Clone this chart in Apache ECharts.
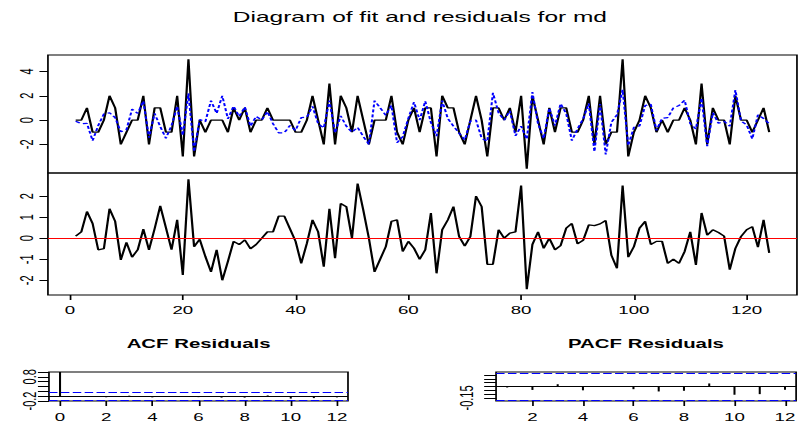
<!DOCTYPE html>
<html><head><meta charset="utf-8">
<script src="https://cdn.jsdelivr.net/npm/echarts@6/dist/echarts.min.js"></script>
<style>
html,body{margin:0;padding:0;background:#fff;overflow:hidden;}
#wrap{width:802px;height:428px;overflow:hidden;position:relative;background:#fff;}
#chart{width:471.76px;height:428px;transform:scaleX(1.7);transform-origin:0 0;}
</style></head><body>
<div id="wrap"><div id="chart"></div></div>
<script>
const mainTitle = 'Diagram of fit and residuals for md';
const acfTitle = 'ACF Residuals';
const pacfTitle = 'PACF Residuals';

const actual = [0,0,1,-1,-1,0,2,1,-2,-1,
 0,0,2,-2,1,1,-1,-1,2,-3,
 5,-3,0,-1,0,0,0,-1,1,0,
 1,-1,0,0,1,0,0,0,0,-1,
 -1,0,2,0,-2,3,-2,2,1,-1,
 2,0,-2,0,0,0,2,-1,-2,0,
 1,-1,1,1,-3,2,1,1,-1,-2,
 0,2,0,-3,1,1,0,1,-1,2,
 -4,2,0,-2,1,-1,1,1,-1,-1,
 0,2,-2,2,-2,-1,-1,5,-3,-1,
 0,2,1,-1,0,-1,0,0,1,0,
 -2,3,-2,1,0,0,-2,2,0,0,
 -1,0,1,-1];

const fitted = [-0.1,-0.3,-0.27,-1.7,-0.45,0.5,0.6,0.2,-0.97,-0.8,
 0.9,0.55,1.57,-1.45,0.55,-0.54,-1.5,-0.45,1.13,-1.25,
 2.2,-2.6,0.05,-0.13,1.6,0.55,2.0,0.1,1.15,0.3,
 1.08,-0.5,0.3,0,0.7,-0.3,-1.05,-1.05,-0.45,-0.85,
 0.2,0.25,1.13,-0.3,-0.65,1.6,-1.05,0.35,-0.5,-1.0,
 -0.6,-1.35,-2.0,1.6,1.0,0.4,1.2,-1.87,-1.37,0.15,
 1.48,0,1.55,-0.2,-1.33,1.6,0.13,-0.5,-1.08,-1.63,
 -0.08,0,-1.5,-1.76,2.24,0.6,0,0.76,-1.3,-0.5,
 -1.57,2.3,-0.3,-1.52,1.0,-0.45,1.35,0.52,-1.7,-0.73,
 0.1,1.37,-2.6,1.32,-2.84,-0.2,0.43,2.5,-2.1,-0.6,
 -0.48,1.2,1.3,-0.85,0.15,0.2,1.0,1.2,1.63,-0.3,
 -0.73,1.8,-2.15,0.6,-0.27,-0.1,-0.5,2.48,-0.08,-0.4,
 -1.55,0.43,0.13,-0.3];

const residuals = [0.1,0.3,1.27,0.7,-0.55,-0.5,1.4,0.8,-1.03,-0.2,
 -0.9,-0.55,0.43,-0.55,0.45,1.54,0.5,-0.55,0.87,-1.75,
 2.8,-0.4,-0.05,-0.87,-1.6,-0.55,-2.0,-1.1,-0.15,-0.3,
 -0.08,-0.5,-0.3,0,0.3,0.3,1.05,1.05,0.45,-0.15,
 -1.2,-0.25,0.87,0.3,-1.35,1.4,-0.95,1.65,1.5,0.0,
 2.6,1.35,0.0,-1.6,-1.0,-0.4,0.8,0.87,-0.63,-0.15,
 -0.48,-1.0,-0.55,1.2,-1.67,0.4,0.87,1.5,0.08,-0.37,
 0.08,2.0,1.5,-1.24,-1.24,0.4,0,0.24,0.3,2.5,
 -2.43,-0.3,0.3,-0.48,0,-0.55,-0.35,0.48,0.7,-0.27,
 -0.1,0.63,0.6,0.68,0.84,-0.8,-1.43,2.5,-0.9,-0.4,
 0.48,0.8,-0.3,-0.15,-0.15,-1.2,-1.0,-1.2,-0.63,0.3,
 -1.27,1.2,0.15,0.4,0.27,0.1,-1.5,-0.48,0.08,0.4,
 0.55,-0.43,0.87,-0.7];

const acfLags = [0,1,2,3,4,5,6,7,8,9,10,11,12];
const acfValues = [1,-0.013,-0.045,0.02,-0.05,-0.01,-0.04,-0.06,-0.06,0.03,-0.1,-0.08,-0.05];
const pacfLags = [1,2,3,4,5,6,7,8,9,10,11,12];
const pacfValues = [-0.013,-0.045,0.03,-0.05,-0.005,-0.035,-0.065,-0.056,0.04,-0.108,-0.1,-0.043];
const confLimit = 0.176;

const timeTicks = [0,20,40,60,80,100,120];
const fitTicks = [-2,0,2,4];
const residTicks = [-2,-1,0,1,2];
const acfXTicks = [0,2,4,6,8,10,12];
const pacfXTicks = [2,4,6,8,10,12];
const acfYTicks = [-0.2,0,0.2,0.4,0.6,0.8,1.0];
const acfYLabels = [-0.2,0.8];
const pacfYTicks = [-0.15,-0.1,-0.05,0,0.05,0.1,0.15];
const pacfYLabels = [-0.15];

const FONT = "'Liberation Sans', Arial, Helvetica, sans-serif";
const lbl = {fontFamily: FONT, fontSize: 11, color: '#000'};
const tickStyle = {color: '#000', width: 1};

function yAx(g, min, max, ticks, labels, tlen, margin) {
  return {type: 'value', gridIndex: g, min: min, max: max, position: 'left',
    splitLine: {show: false}, axisLine: {show: false, onZero: false},
    axisTick: {show: true, length: tlen, customValues: ticks, lineStyle: tickStyle},
    axisLabel: Object.assign({show: true, customValues: labels, rotate: 90, margin: margin}, lbl)};
}
function xAx(g, min, max, ticks, tlen, margin) {
  if (!ticks) return {type: 'value', gridIndex: g, min: min, max: max, show: false,
    axisLine: {show: false, onZero: false}};
  return {type: 'value', gridIndex: g, min: min, max: max, position: 'bottom',
    splitLine: {show: false}, axisLine: {show: false, onZero: false},
    axisTick: {show: true, length: tlen, customValues: ticks, lineStyle: tickStyle},
    axisLabel: Object.assign({show: true, customValues: ticks, margin: margin}, lbl)};
}
function grid(left, top, width, height) {
  return {left: left, top: top, width: width, height: height, show: true,
    borderColor: '#000', borderWidth: 1, backgroundColor: 'transparent',
    containLabel: false, outerBoundsMode: 'none'};
}
function hline(v, color, type) {
  return {yAxis: v, lineStyle: {color: color, width: 1, type: type}};
}

const idx = actual.map((_, i) => i + 1);
const chart = echarts.init(document.getElementById('chart'), null, {renderer: 'svg'});

chart.setOption({
  animation: false,
  backgroundColor: '#fff',
  grid: [
    grid(28.2, 55, 440.6, 118),
    grid(28.2, 173, 440.6, 122),
    grid(28.8, 372, 175.9, 29),
    grid(291.8, 372, 176.5, 29)
  ],
  xAxis: [
    xAx(0, -3.92, 128.92, null),
    xAx(1, -3.92, 128.92, timeTicks, 5, 10),
    xAx(2, -0.48, 12.48, acfXTicks, 5, 11),
    xAx(3, 0.56, 12.44, pacfXTicks, 5, 11)
  ],
  yAxis: [
    yAx(0, -4.36, 5.36, fitTicks, fitTicks, 5, 7),
    yAx(1, -2.7, 3.1, residTicks, residTicks, 5, 7),
    yAx(2, -0.2, 1.0, acfYTicks, acfYLabels, 6.5, 6),
    yAx(3, -0.19, 0.19, pacfYTicks, pacfYLabels, 7, 12)
  ],
  graphic: [
    {type: 'text', x: 247, y: 17, silent: true,
      style: {text: mainTitle, font: '14.4px ' + FONT, fill: '#000', align: 'center', verticalAlign: 'middle'}},
    {type: 'text', x: 116.8, y: 344.5, silent: true,
      style: {text: acfTitle, font: 'bold 12px ' + FONT, fill: '#000', align: 'center', verticalAlign: 'middle'}},
    {type: 'text', x: 380, y: 344.5, silent: true,
      style: {text: pacfTitle, font: 'bold 12px ' + FONT, fill: '#000', align: 'center', verticalAlign: 'middle'}}
  ],
  series: [
    {type: 'line', xAxisIndex: 0, yAxisIndex: 0, silent: true, symbol: 'none',
      data: idx.map((x, i) => [x, actual[i]]),
      lineStyle: {color: '#000', width: 1.3}},
    {type: 'line', xAxisIndex: 0, yAxisIndex: 0, silent: true, symbol: 'none',
      data: idx.map((x, i) => [x, fitted[i]]),
      lineStyle: {color: '#0000ff', width: 1.2, type: [3, 2]}},
    {type: 'line', xAxisIndex: 1, yAxisIndex: 1, silent: true, symbol: 'none',
      data: idx.map((x, i) => [x, residuals[i]]),
      lineStyle: {color: '#000', width: 1.3},
      markLine: {silent: true, symbol: ['none', 'none'], label: {show: false}, emphasis: {disabled: true},
        data: [hline(0, '#ff0000', 'solid')]}},
    {type: 'bar', xAxisIndex: 2, yAxisIndex: 2, silent: true, barWidth: 1.2,
      data: acfLags.map((l, i) => [l, acfValues[i]]),
      itemStyle: {color: '#000'},
      markLine: {silent: true, symbol: ['none', 'none'], label: {show: false}, emphasis: {disabled: true},
        data: [hline(0, '#000', 'solid'), hline(confLimit, '#0000ff', [5, 2]), hline(-confLimit, '#0000ff', [5, 2])]}},
    {type: 'bar', xAxisIndex: 3, yAxisIndex: 3, silent: true, barWidth: 1.2,
      data: pacfLags.map((l, i) => [l, pacfValues[i]]),
      itemStyle: {color: '#000'},
      markLine: {silent: true, symbol: ['none', 'none'], label: {show: false}, emphasis: {disabled: true},
        data: [hline(0, '#000', 'solid'), hline(confLimit, '#0000ff', [5, 2]), hline(-confLimit, '#0000ff', [5, 2])]}}
  ]
});
</script>
</body></html>
